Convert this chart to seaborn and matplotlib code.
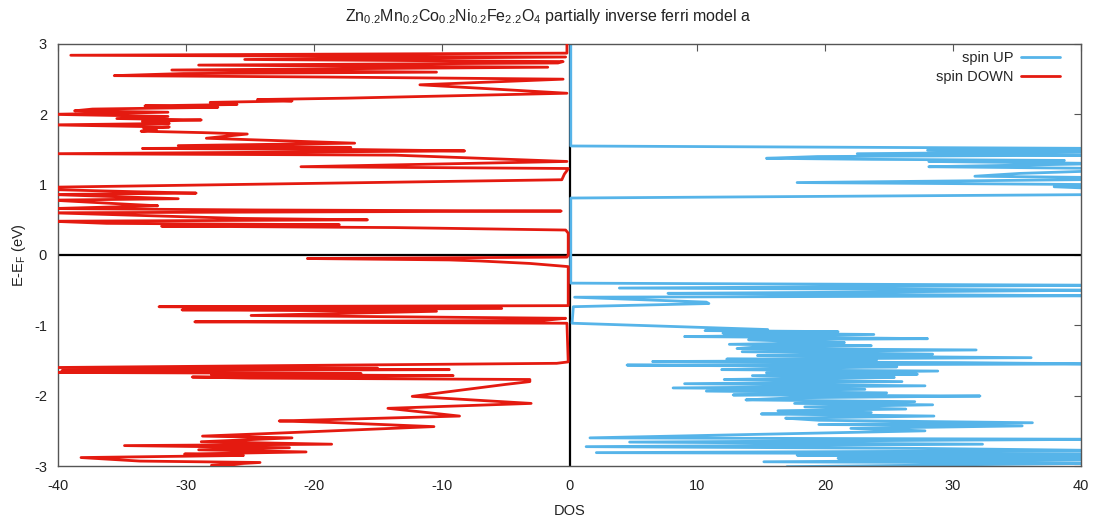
import numpy as np
import pandas as pd
import matplotlib
matplotlib.use("Agg")
import matplotlib.pyplot as plt
import seaborn as sns

# Spin-resolved density of states, energies relative to E_F (eV)
energy_up = [3.00, 1.55, 1.515, 1.49, 1.47, 1.44, 1.42, 1.40, 1.375, 1.36, 1.345, 1.33,
             1.30, 1.28, 1.255, 1.23, 1.20, 1.16, 1.12, 1.10, 1.075, 1.03, 1.00, 0.97,
             0.94, 0.86, 0.81, -0.40, -0.43, -0.47, -0.50, -0.53, -0.545, -0.58, -0.60,
             -0.67, -0.69, -0.735, -0.97, -1.06, -1.075, -1.09, -1.11, -1.13, -1.16, -1.175,
             -1.19, -1.205, -1.22, -1.245, -1.27,
             -1.29, -1.31, -1.33, -1.35, -1.375, -1.41, -1.43, -1.46, -1.48, -1.50, -1.515,
             -1.53, -1.55, -1.565, -1.59, -1.61, -1.63, -1.65, -1.675, -1.695, -1.715, -1.74,
             -1.755, -1.77, -1.80, -1.83, -1.86, -1.89, -1.91, -1.935, -1.96, -1.99, -2.005,
             -2.03, -2.06, -2.085, -2.11, -2.13, -2.16, -2.19, -2.215, -2.24, -2.26, -2.29,
             -2.32, -2.35, -2.385, -2.41, -2.43, -2.465, -2.50, -2.60, -2.62, -2.66, -2.69,
             -2.725, -2.75, -2.78, -2.81, -2.83, -2.845, -2.87, -2.89, -2.91, -2.94,
             -2.96, -2.98, -3.01]
dos_up = [0.1, 0.1, 42.0, 28.0, 42.0, 22.5, 42.0, 19.4, 15.4, 23.6, 38.7, 28.1,
          42.0, 35.9, 28.1, 42.0, 42.0, 35.2, 31.7, 42.0, 42.0, 17.8, 42.0, 37.9,
          42.0, 42.0, 0.1, 0.1, 42.0, 3.9, 42.0, 21.1, 7.7, 42.0, 0.4,
          10.7, 10.9, 0.3, 0.2, 15.5, 10.6, 21.0, 12.0, 23.8, 9.0, 20.5,
          28.0, 14.0, 16.3, 21.5, 12.5,
          23.6, 14.5, 13.1, 31.8, 13.5, 28.4, 14.7, 36.1, 12.3, 24.0, 6.5,
          30.5, 42.0, 4.5, 25.6, 18.0, 11.9, 28.8, 15.4, 27.2, 14.3, 25.4,
          18.5, 12.1, 26.0, 9.0, 27.8, 8.1, 23.1, 10.7, 24.8, 12.8, 32.1,
          17.6, 13.8, 27.0, 17.6, 28.4, 18.4, 26.3, 16.3, 23.6, 15.0, 28.5,
          16.9, 19.5, 36.2, 19.5, 35.4, 22.0, 27.8, 1.6, 42.0, 4.7, 32.3,
          1.3, 27.6, 42.0, 2.1, 42.0, 17.8, 42.0, 21.0, 42.0, 15.2,
          42.0, 31.9, 17.0]

energy_dn = [3.00, 2.87, 2.84, 2.815, 2.78, 2.75, 2.73, 2.70, 2.67, 2.63, 2.60, 2.58,
             2.55, 2.53, 2.50, 2.42, 2.30, 2.23, 2.21, 2.19, 2.17, 2.14, 2.12, 2.10,
             2.075, 2.05, 2.03, 2.00, 1.97, 1.94, 1.92, 1.90, 1.87, 1.85, 1.82, 1.80,
             1.78, 1.76, 1.74, 1.72, 1.66, 1.59, 1.555, 1.53, 1.515, 1.50, 1.48, 1.44,
             1.42, 1.33, 1.255, 1.23, 1.20, 1.15, 1.07, 0.96, 0.93, 0.90, 0.88, 0.86,
             0.80, 0.78, 0.72, 0.70, 0.66, 0.64, 0.625, 0.60, 0.56, 0.52, 0.50, 0.48,
             0.45, 0.43, 0.41, 0.39, 0.355, 0.31, 0.00, -0.03, -0.05, -0.07, -0.085,
             -0.12, -0.165, -0.72, -0.735, -0.76, -0.78, -0.80, -0.86, -0.90, -0.93,
             -0.95, -0.97, -1.52, -1.54, -1.60, -1.61, -1.62, -1.63, -1.645, -1.66,
             -1.67, -1.685, -1.70, -1.715, -1.735, -1.75, -1.77, -1.80, -1.84, -2.01,
             -2.11, -2.18, -2.29, -2.36, -2.38, -2.44, -2.54, -2.575, -2.60, -2.655,
             -2.69, -2.71, -2.74, -2.77, -2.80, -2.83, -2.85, -2.88, -2.93, -2.95,
             -2.99, -3.02]
dos_dn = [-0.2, -0.2, -39.0, -0.3, -25.4, -0.5, -0.9, -29.0, -1.7, -31.1, -10.4, -30.2,
          -35.6, -18.8, -0.5, -11.7, -0.2, -17.4, -24.4, -21.7, -28.1, -26.0, -33.2, -27.5,
          -37.3, -38.7, -31.4, -40.5, -31.4, -35.4, -28.8, -33.4, -31.3, -40.5, -31.3, -33.3,
          -32.3, -33.5, -28.7, -25.2, -28.4, -16.8, -30.6, -17.1, -33.4, -17.1, -8.2, -40.5,
          -13.7, -0.2, -21.0, -0.1, -0.2, -0.4, -0.6, -42.0, -40.5, -34.0, -29.2, -40.5,
          -30.6, -40.5, -34.4, -32.2, -40.5, -24.4, -0.65, -40.5, -33.0, -25.7, -15.8, -40.5,
          -36.2, -18.0, -31.9, -13.7, -0.3, -0.1, -0.1, -0.2, -20.5, -9.4, -7.0,
          -3.1, -0.1, -0.1, -32.1, -5.3, -30.3, -10.4, -24.9, -0.3, -2.0,
          -29.3, -0.2, -0.1, -1.0, -40.5, -15.0, -36.0, -9.4, -39.7, -27.0,
          -40.0, -16.3, -28.0, -9.1, -29.5, -25.0, -3.1, -3.1, -5.0, -12.3,
          -3.0, -14.2, -8.6, -22.7, -18.8, -10.6, -23.8, -28.7, -21.7, -28.8,
          -18.6, -34.8, -21.9, -29.0, -20.6, -30.1, -25.5, -38.2, -33.6, -24.2,
          -28.0, -25.4]

x_ticks = [-40, -30, -20, -10, 0, 10, 20, 30, 40]
y_ticks = [-3, -2, -1, 0, 1, 2, 3]

sns.set_theme(style="white")
plt.rcParams["font.family"] = ["Liberation Sans", "DejaVu Sans"]
plt.rcParams["mathtext.fontset"] = "custom"
plt.rcParams["mathtext.rm"] = "Liberation Sans"
plt.rcParams["mathtext.it"] = "Liberation Sans:italic"
plt.rcParams["mathtext.default"] = "rm"
plt.rcParams["axes.unicode_minus"] = False

FS = 10.5
TXT = "#222222"

fig = plt.figure(figsize=(10.96, 5.22), dpi=100)
ax = fig.add_axes([58 / 1096, 1 - 466 / 522, (1081 - 58) / 1096, (466 - 44) / 522])

# zero axes underneath the curves
ax.axhline(0, color="black", lw=1.6, zorder=1)
ax.axvline(0, color="black", lw=1.6, zorder=1)

up = pd.DataFrame({"E": energy_up, "DOS": dos_up})
dn = pd.DataFrame({"E": energy_dn, "DOS": dos_dn})
sns.lineplot(data=up, x="DOS", y="E", sort=False, orient="y", estimator=None,
             color="#56B4E9", lw=2.0, ax=ax, label="spin UP", zorder=2)
sns.lineplot(data=dn, x="DOS", y="E", sort=False, orient="y", estimator=None,
             color="#E41A10", lw=2.0, ax=ax, label="spin DOWN", zorder=3)

ax.set_xlim(-40, 40)
ax.set_ylim(-3, 3)
ax.set_xticks(x_ticks)
ax.set_yticks(y_ticks)
ax.tick_params(direction="in", length=5, width=0.8, color="#555555",
               top=True, right=True, labelsize=FS, labelcolor=TXT)
ax.tick_params(axis="x", pad=9)
ax.tick_params(axis="y", pad=8)
for s in ax.spines.values():
    s.set_color("#555555")
    s.set_linewidth(1.0)

ax.set_xlabel("DOS", fontsize=FS, labelpad=8, color=TXT)
ax.set_ylabel("E-E$_F$ (eV)", fontsize=FS, labelpad=4, color=TXT)
fig.text(0.5, 1 - 16 / 522,
         "Zn$_{0.2}$Mn$_{0.2}$Co$_{0.2}$Ni$_{0.2}$Fe$_{2.2}$O$_4$ partially inverse ferri model a",
         ha="center", va="center", fontsize=11.5, color=TXT)

leg = ax.legend(loc="upper right", bbox_to_anchor=(1060 / 1096, 1 - 51 / 522),
                bbox_transform=fig.transFigure, frameon=False, markerfirst=False,
                fontsize=FS, handlelength=2.7, handletextpad=0.5, borderaxespad=0.0,
                borderpad=0.0, labelspacing=0.35)

fig.savefig("out.png", dpi=100)
